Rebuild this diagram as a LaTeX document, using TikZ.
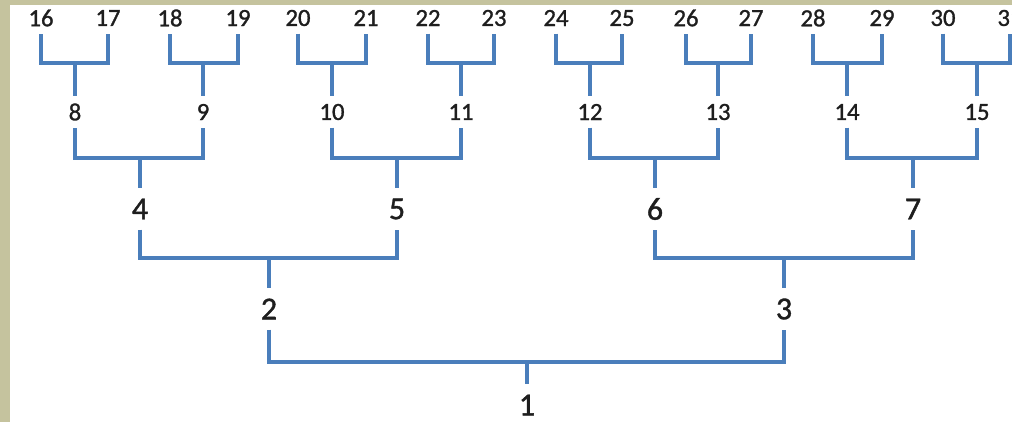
\documentclass[tikz,border=0pt]{standalone}
\usepackage{fontspec}
\setmainfont[FakeBold=1.2]{Carlito}
\definecolor{linkblue}{RGB}{74,126,187}
\definecolor{frametan}{RGB}{197,195,158}
\definecolor{labelgray}{RGB}{30,30,30}

\begin{document}
\begin{tikzpicture}[
    x=0.75pt, y=-0.75pt,
    small/.style={inner xsep=2pt, inner ysep=5.5pt, text=labelgray, font=\fontsize{18.5}{21}\selectfont},
    big/.style={inner xsep=2pt, inner ysep=7.5pt, text=labelgray, font=\fontsize{24}{28}\selectfont},
    link/.style={draw=linkblue, line width=2.8pt}
]
    \useasboundingbox (0,0) rectangle (1012,422);
    \fill[frametan] (0,0) rectangle (1012,5);
    \fill[frametan] (0,0) rectangle (10,422);

    % leaves
    \node[small] (n16) at (41,18) {16};
    \node[small] (n17) at (108,18) {17};
    \node[small] (n18) at (170,18) {18};
    \node[small] (n19) at (238,18) {19};
    \node[small] (n20) at (298,18) {20};
    \node[small] (n21) at (366,18) {21};
    \node[small] (n22) at (428,18) {22};
    \node[small] (n23) at (494,18) {23};
    \node[small] (n24) at (556,18) {24};
    \node[small] (n25) at (622,18) {25};
    \node[small] (n26) at (686,18) {26};
    \node[small] (n27) at (751,18) {27};
    \node[small] (n28) at (813,18) {28};
    \node[small] (n29) at (882,18) {29};
    \node[small] (n30) at (943,18) {30};
    \node[small] (n31) at (1010,18) {31};

    % third level
    \node[small] (n8) at (75,112) {8};
    \node[small] (n9) at (203,112) {9};
    \node[small] (n10) at (332,112) {10};
    \node[small] (n11) at (461,112) {11};
    \node[small] (n12) at (590,112) {12};
    \node[small] (n13) at (718,112) {13};
    \node[small] (n14) at (847,112) {14};
    \node[small] (n15) at (977,112) {15};

    % upper levels
    \node[big] (n4) at (140,209) {4};
    \node[big] (n5) at (397,209) {5};
    \node[big] (n6) at (655,209) {6};
    \node[big] (n7) at (913,209) {7};
    \node[big] (n2) at (269,309) {2};
    \node[big] (n3) at (784,309) {3};
    \node[big] (n1) at (527,405) {1};

    % junctions
    \coordinate (j8) at (75,63);
    \coordinate (j9) at (203,63);
    \coordinate (j10) at (332,63);
    \coordinate (j11) at (461,63);
    \coordinate (j12) at (590,63);
    \coordinate (j13) at (718,63);
    \coordinate (j14) at (847,63);
    \coordinate (j15) at (977,63);
    \coordinate (j4) at (140,158);
    \coordinate (j5) at (397,158);
    \coordinate (j6) at (655,158);
    \coordinate (j7) at (913,158);
    \coordinate (j2) at (269,258);
    \coordinate (j3) at (784,258);
    \coordinate (j1) at (527,362);

    \draw[link] (n16) |- (j8) -| (n17);
    \draw[link] (n18) |- (j9) -| (n19);
    \draw[link] (n20) |- (j10) -| (n21);
    \draw[link] (n22) |- (j11) -| (n23);
    \draw[link] (n24) |- (j12) -| (n25);
    \draw[link] (n26) |- (j13) -| (n27);
    \draw[link] (n28) |- (j14) -| (n29);
    \draw[link] (n30) |- (j15) -| (n31);
    \draw[link] (n8) |- (j4) -| (n9);
    \draw[link] (n10) |- (j5) -| (n11);
    \draw[link] (n12) |- (j6) -| (n13);
    \draw[link] (n14) |- (j7) -| (n15);
    \draw[link] (n4) |- (j2) -| (n5);
    \draw[link] (n6) |- (j3) -| (n7);
    \draw[link] (n2) |- (j1) -| (n3);

    \draw[link] (j8) -- (n8);
    \draw[link] (j9) -- (n9);
    \draw[link] (j10) -- (n10);
    \draw[link] (j11) -- (n11);
    \draw[link] (j12) -- (n12);
    \draw[link] (j13) -- (n13);
    \draw[link] (j14) -- (n14);
    \draw[link] (j15) -- (n15);
    \draw[link] (j4) -- (n4);
    \draw[link] (j5) -- (n5);
    \draw[link] (j6) -- (n6);
    \draw[link] (j7) -- (n7);
    \draw[link] (j2) -- (n2);
    \draw[link] (j3) -- (n3);
    \draw[link] (j1) -- (n1);
\end{tikzpicture}
\end{document}
